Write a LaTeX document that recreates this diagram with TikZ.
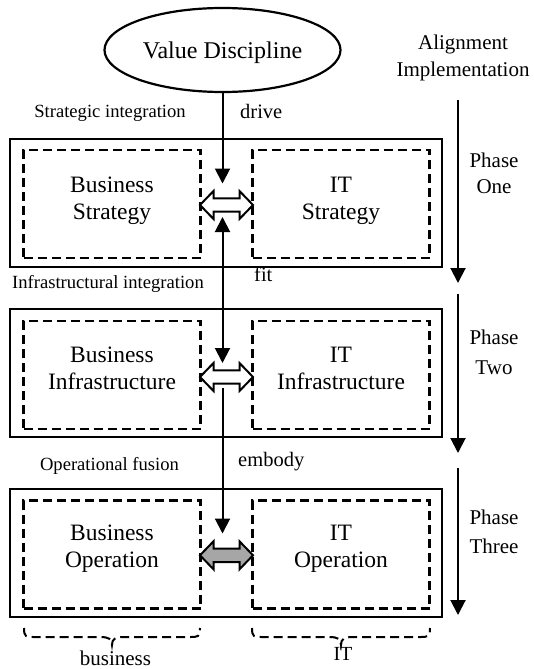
\documentclass[tikz,border=0pt]{standalone}
\usepackage{fontspec}
\setmainfont{Liberation Serif}
\usetikzlibrary{arrows.meta,shapes.geometric}
\definecolor{blockgray}{RGB}{166,166,166}
\begin{document}
\begin{tikzpicture}[x=1pt,y=-1pt,
  outerbox/.style={draw, line width=2.6pt, rectangle, minimum width=432pt, minimum height=128pt, inner sep=0pt},
  dashbox/.style={draw, line width=2.2pt, dash pattern=on 9pt off 5pt, rectangle, minimum width=177pt, minimum height=108pt, inner sep=0pt},
  varrow/.style={line width=2pt, -{Triangle[width=15pt,length=15pt]}},
  vdarrow/.style={line width=2pt, {Triangle[width=15pt,length=15pt]}-{Triangle[width=15pt,length=15pt]}},
  blockarrow/.style={draw, line width=2pt, line join=miter, miter limit=4},
  bracestyle/.style={draw, line width=2pt, dash pattern=on 9pt off 5pt},
  boxtext/.style={anchor=base, inner sep=0pt, font=\fontsize{23.5}{27}\selectfont},
  smalltext/.style={anchor=base, inner sep=0pt, font=\fontsize{18.6}{22}\selectfont},
  midtext/.style={anchor=base west, inner sep=0pt, font=\fontsize{20.5}{24}\selectfont},
  phasetext/.style={anchor=base, inner sep=0pt, font=\fontsize{21}{25}\selectfont}
]
\useasboundingbox (0,0) rectangle (533,669);

% ellipse
\node[ellipse, draw, line width=2.2pt, minimum width=236pt, minimum height=84pt, inner sep=0pt] (vd) at (222.5,50) {};
\node[anchor=base, inner sep=0pt, font=\fontsize{24}{28}\selectfont] (vdt) at (222.5,59) {Value Discipline};

% top right labels
\node[phasetext] (al1) at (463,49) {Alignment};
\node[phasetext] (al2) at (463,77) {Implementation};

% outer boxes
\node[outerbox] (o1) at (226,203) {};
\node[outerbox] (o2) at (226,373) {};
\node[outerbox] (o3) at (226,553) {};

% dashed boxes
\node[dashbox] (bs) at (112,204) {};
\node[dashbox] (is) at (341,204) {};
\node[dashbox] (bi) at (112,375) {};
\node[dashbox] (ii) at (341,375) {};
\node[dashbox] (bo) at (112,554.5) {};
\node[dashbox] (io) at (341,554.5) {};

% box texts
\node[boxtext] (bs1) at (112,192) {Business};
\node[boxtext] (bs2) at (112,219) {Strategy};
\node[boxtext] (is1) at (341,192) {IT};
\node[boxtext] (is2) at (341,219) {Strategy};
\node[boxtext] (bi1) at (112,362) {Business};
\node[boxtext] (bi2) at (112,389) {Infrastructure};
\node[boxtext] (ii1) at (341,362) {IT};
\node[boxtext] (ii2) at (341,389) {Infrastructure};
\node[boxtext] (bo1) at (112,540) {Business};
\node[boxtext] (bo2) at (112,567) {Operation};
\node[boxtext] (io1) at (341,540) {IT};
\node[boxtext] (io2) at (341,567) {Operation};

% left labels
\node[smalltext] (l1) at (110,117) {Strategic integration};
\node[smalltext] (l2) at (108,288) {Infrastructural integration};
\node[smalltext] (l3) at (109.5,470) {Operational fusion};

% connector labels
\node[midtext] (c1) at (240,118) {drive};
\node[midtext] (c2) at (254,281) {fit};
\node[midtext] (c3) at (238,466) {embody};

% phase labels
\node[phasetext] (p1a) at (494,167.5) {Phase};
\node[phasetext] (p1b) at (494,193) {One};
\node[phasetext] (p2a) at (494,344) {Phase};
\node[phasetext] (p2b) at (494,374) {Two};
\node[phasetext] (p3a) at (494,524) {Phase};
\node[phasetext] (p3b) at (494,553) {Three};

% vertical connectors
\coordinate (d1) at (222.5,183.5);
\coordinate (f1) at (222.5,217);
\coordinate (f2) at (222.5,363);
\coordinate (e1) at (222.5,388);
\coordinate (e2) at (222.5,533.5);
\draw[varrow] (vd.south -| d1) -- (d1);
\draw[vdarrow] (f1) -- (f2);
\draw[varrow] (e1) -- (e2);

% phase arrows
\coordinate (ph1s) at (458,100);
\coordinate (ph1e) at (458,283);
\coordinate (ph2s) at (458,294);
\coordinate (ph2e) at (458,453);
\coordinate (ph3s) at (458,468);
\coordinate (ph3e) at (458,615);
\draw[varrow] (ph1s) -- (ph1e);
\draw[varrow] (ph2s) -- (ph2e);
\draw[varrow] (ph3s) -- (ph3e);

% block double arrows
\draw[blockarrow, fill=white, shift={(226.5,205)}] (-26.5,0) -- (-13,-14) -- (-13,-6.7) -- (13,-6.7) -- (13,-14) -- (26.5,0) -- (13,14) -- (13,6.7) -- (-13,6.7) -- (-13,14) -- cycle;
\draw[blockarrow, fill=white, shift={(226.5,377)}] (-26.5,0) -- (-13,-14) -- (-13,-6.7) -- (13,-6.7) -- (13,-14) -- (26.5,0) -- (13,14) -- (13,6.7) -- (-13,6.7) -- (-13,14) -- cycle;
\draw[blockarrow, fill=blockgray, shift={(226.5,555.3)}] (-26.5,0) -- (-13,-14) -- (-13,-6.7) -- (13,-6.7) -- (13,-14) -- (26.5,0) -- (13,14) -- (13,6.7) -- (-13,6.7) -- (-13,14) -- cycle;

% braces
\draw[bracestyle] (24,628) .. controls (24,637) and (26,637) .. (34,637) -- (100,637) .. controls (109,637) and (112,639) .. (112,645) .. controls (112,639) and (115,637) .. (124,637) -- (190,637) .. controls (198,637) and (200,637) .. (200,628);
\draw[bracestyle] (252,628) .. controls (252,637) and (254,637) .. (262,637) -- (329,637) .. controls (338,637) and (341,639) .. (341,645) .. controls (341,639) and (344,637) .. (353,637) -- (420,637) .. controls (428,637) and (430,637) .. (430,628);

\node[phasetext] (bl) at (115.5,665) {business};
\node[phasetext, font=\fontsize{20}{24}\selectfont] (il) at (343,660) {IT};
\end{tikzpicture}
\end{document}
